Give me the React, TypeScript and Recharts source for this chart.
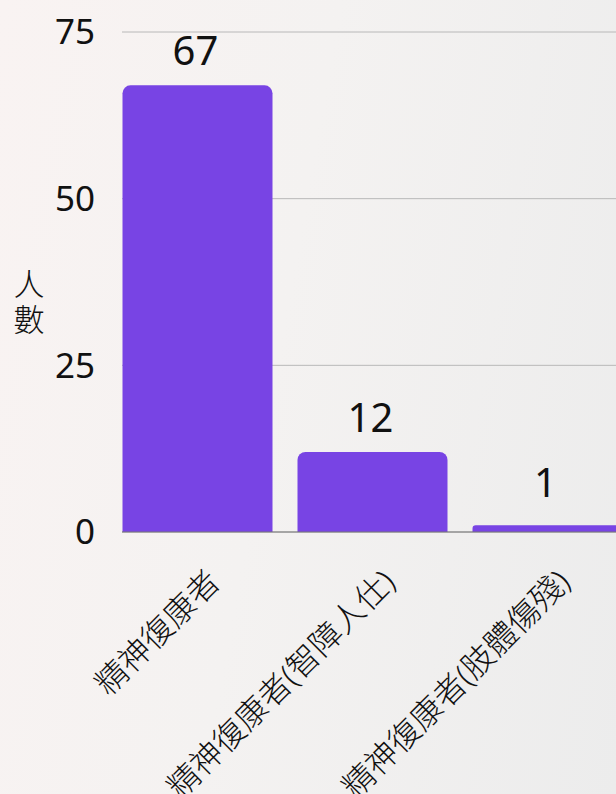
import { BarChart, Bar, XAxis, YAxis, CartesianGrid, LabelList } from 'recharts';

const categories = ['精神復康者', '精神復康者(智障人仕)', '精神復康者(肢體傷殘)'];
const counts = [67, 12, 1];
const yTicks = [0, 25, 50, 75];
const yLabel = ['人', '數'];

const data = categories.map((name, i) => ({ name, value: counts[i] }));

const FONT = '"Noto Sans", "Noto Sans CJK TC", sans-serif';

function CategoryTick({ x, y, payload }: any) {
  return (
    <g transform={`translate(${x + 17}, ${y + 36})`}>
      <text transform="rotate(-45)" textAnchor="end" dy="0.35em" fontSize={32} fontWeight={300} fill="#111" fontFamily={FONT}>
        {payload.value}
      </text>
    </g>
  );
}

function ValueLabel({ x, y, width, height, value }: any) {
  // keep small bars' labels clear of the baseline
  const baseline = Math.min(y - 20, y + height - 35);
  return (
    <text x={x + width / 2 - 2} y={baseline} textAnchor="middle" fontSize={40} fill="#111" fontFamily={FONT}>
      {value}
    </text>
  );
}

function AxisTitle() {
  return (
    <g fontSize={31} fontWeight={300} fill="#111" fontFamily={FONT}>
      <text x={29} y={295} textAnchor="middle">{yLabel[0]}</text>
      <text x={29} y={331} textAnchor="middle">{yLabel[1]}</text>
    </g>
  );
}

export default function App() {
  return (
    <div
      style={{
        position: 'absolute',
        top: 0,
        left: 0,
        width: 616,
        height: 794,
        overflow: 'hidden',
        background: 'linear-gradient(100deg, #f9f3f2 0%, #f4f2f1 45%, #ececec 100%)',
      }}
    >
      <BarChart width={660} height={794} data={data} margin={{ top: 32, right: 25.5, left: 0, bottom: 62 }}>
        <CartesianGrid vertical={false} stroke="#b8b8b8" />
        <XAxis
          dataKey="name"
          height={200}
          interval={0}
          padding={{ left: -12.5, right: 0 }}
          axisLine={{ stroke: '#777777' }}
          tickLine={false}
          tick={<CategoryTick />}
        />
        <YAxis
          width={122}
          domain={[0, 75]}
          ticks={yTicks}
          axisLine={false}
          tickLine={false}
          tickSize={0}
          tickMargin={27}
          tick={{ fontSize: 35, fill: '#111', fontFamily: FONT }}
          label={<AxisTitle />}
        />
        <Bar dataKey="value" fill="#7844e4" barSize={150} radius={[8, 8, 0, 0]} isAnimationActive={false}>
          <LabelList dataKey="value" content={<ValueLabel />} />
        </Bar>
      </BarChart>
    </div>
  );
}
